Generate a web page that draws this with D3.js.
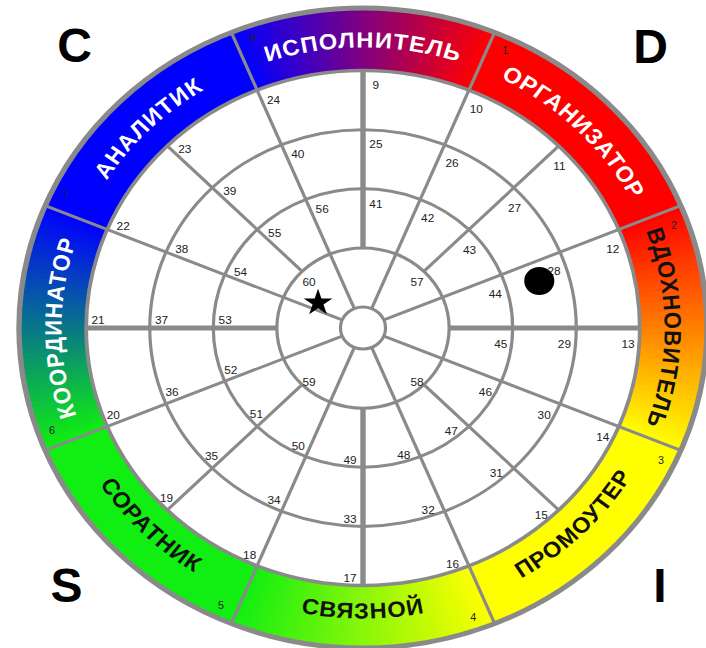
<!DOCTYPE html>
<html>
<head>
<meta charset="utf-8">
<script src="https://cdn.jsdelivr.net/npm/d3@7"></script>
<style>
    body { margin: 0; background: #fff; }
    svg { display: block; }
    text { font-family: "Liberation Sans", Arial, sans-serif; }
</style>
</head>
<body>
<div id="chart"></div>
<script>
// sectors of the wheel, clockwise from the top
const sectorNames = ["ИСПОЛНИТЕЛЬ", "ОРГАНИЗАТОР", "ВДОХНОВИТЕЛЬ", "ПРОМОУТЕР", "СВЯЗНОЙ", "СОРАТНИК", "КООРДИНАТОР", "АНАЛИТИК"];
const sectorNumbers = [8, 1, 2, 3, 4, 5, 6, 7];

// cell numbers, one per spoke (16 spokes, clockwise from the top)
const outerLabels = [9, 10, 11, 12, 13, 14, 15, 16, 17, 18, 19, 20, 21, 22, 23, 24];
const middleLabels = [25, 26, 27, 28, 29, 30, 31, 32, 33, 34, 35, 36, 37, 38, 39, 40];
const innerLabels = [41, 42, 43, 44, 45, 46, 47, 48, 49, 50, 51, 52, 53, 54, 55, 56];
const centerLabels = [57, 58, 59, 60];

// corner letters
const cornerLetters = ["C", "D", "S", "I"];

// marked answers: angle in degrees (clockwise from top), level counted in rings from the hub
const markShapes = ["circle", "star"];
const markAngles = [74, 301];
const markLevels = [2.53, 0.47];

// layout
const width = 706, height = 648;
const cx = 363, cy = 328, stretchX = 1.075;
const lineColor = "#8a8a8a";

// key colours of the wheel, the sectors in between blend them
const keyColors = {1: "#ff0000", 3: "#ffff00", 5: "#11ee11", 7: "#0000ff"};
const darkText = [2, 3, 4, 5];

const rScale = d3.scaleLinear().domain([0, 4, 5]).range([21, 257.5, 320]);
const spokeAngle = d3.scaleLinear().domain([0, 16]).range([0, 2 * Math.PI]);
const degAngle = d3.scaleLinear().domain([0, 360]).range([0, 2 * Math.PI]);

function polar(r, a) { return [r * Math.sin(a), -r * Math.cos(a)]; }

const svg = d3.select("#chart").append("svg")
    .attr("width", width)
    .attr("height", height);

const wheel = svg.append("g")
    .attr("transform", "translate(" + cx + "," + cy + ") scale(" + stretchX + ",1)");

// coloured band
const arc = d3.arc().innerRadius(rScale(4)).outerRadius(rScale(5));
const band = wheel.append("g");
sectorNames.forEach(function(name, i) {
    const start = i * 45 - 22.5;
    if (i % 2) {
        band.append("path")
            .attr("d", arc({startAngle: degAngle(start), endAngle: degAngle(start + 45)}))
            .attr("fill", keyColors[i]);
    } else {
        const c0 = keyColors[(i + 7) % 8], c1 = keyColors[(i + 1) % 8];
        const mix = d3.interpolateRgb(c0, c1);
        d3.range(45).forEach(function(s) {
            band.append("path")
                .attr("d", arc({startAngle: degAngle(start + s), endAngle: degAngle(start + s + 1.15)}))
                .attr("fill", mix((s + 0.5) / 45));
        });
    }
});

// rings
wheel.selectAll(".ring").data([0, 1, 2, 3, 4]).enter()
    .append("circle")
        .attr("class", "ring")
        .attr("r", function(d) { return rScale(d); })
        .attr("fill", "none")
        .attr("stroke", lineColor)
        .attr("stroke-width", function(d) { return d === 4 ? 3.5 : 3; });

wheel.append("circle")
    .attr("r", rScale(5))
    .attr("fill", "none")
    .attr("stroke", lineColor)
    .attr("stroke-width", 5);

// spokes: odd ones run hub to rim, the rest start at the first ring
wheel.selectAll(".spoke").data(d3.range(16)).enter()
    .append("line")
        .attr("class", "spoke")
        .each(function(i) {
            const a = spokeAngle(i);
            const p0 = polar(rScale(i % 2 ? 0 : 1), a);
            const p1 = polar(rScale(i % 2 ? 5 : 4), a);
            d3.select(this)
                .attr("x1", p0[0]).attr("y1", p0[1])
                .attr("x2", p1[0]).attr("y2", p1[1]);
        })
        .attr("stroke", lineColor)
        .attr("stroke-width", function(i) { return i % 4 === 0 ? 5 : 3; });

// cell numbers next to each spoke
function ringLabels(labels, level) {
    wheel.append("g").selectAll("text").data(labels).enter()
        .append("text")
            .attr("x", function(d, i) {
                const a = spokeAngle(i);
                return polar(rScale(level) - 11, a)[0] + 12 * Math.cos(a);
            })
            .attr("y", function(d, i) {
                const a = spokeAngle(i);
                return polar(rScale(level) - 11, a)[1] + 12 * Math.sin(a) + 4;
            })
            .attr("dy", "0.35em")
            .attr("text-anchor", "middle")
            .attr("font-size", "11px")
            .attr("fill", "#222")
            .text(function(d) { return d; });
}
ringLabels(outerLabels, 4);
ringLabels(middleLabels, 3);
ringLabels(innerLabels, 2);

wheel.append("g").selectAll("text").data(centerLabels).enter()
    .append("text")
        .attr("x", function(d, i) { return polar(rScale(1) - 9, degAngle(45 + i * 90))[0]; })
        .attr("y", function(d, i) { return polar(rScale(1) - 9, degAngle(45 + i * 90))[1] + 4; })
        .attr("dy", "0.35em")
        .attr("text-anchor", "middle")
        .attr("font-size", "11px")
        .attr("fill", "#222")
        .text(function(d) { return d; });

// sector names along the band
const defs = svg.append("defs");
sectorNames.forEach(function(name, i) {
    const clockwise = !(i >= 3 && i <= 5);
    const r = clockwise ? 280.5 : 290.5;
    const a0 = degAngle(i * 45 - 22.5) - Math.PI / 2;
    const a1 = degAngle(i * 45 + 22.5) - Math.PI / 2;
    const p = d3.path();
    if (clockwise) p.arc(0, 0, r, a0, a1, false);
    else p.arc(0, 0, r, a1, a0, true);
    defs.append("path").attr("id", "sector-path-" + i).attr("d", p.toString());

    wheel.append("text")
            .attr("font-size", "22px")
            .attr("font-weight", "bold")
            .attr("letter-spacing", "1px")
            .attr("fill", darkText.indexOf(i) >= 0 ? "#111" : "#fff")
        .append("textPath")
            .attr("href", "#sector-path-" + i)
            .attr("startOffset", "50%")
            .attr("text-anchor", "middle")
            .text(name);
});

// small sector numbers
wheel.append("g").selectAll("text").data(sectorNumbers).enter()
    .append("text")
        .attr("x", function(d, i) { return polar(307, degAngle(i * 45 - 19.5))[0]; })
        .attr("y", function(d, i) { return polar(307, degAngle(i * 45 - 19.5))[1]; })
        .attr("dy", "0.35em")
        .attr("text-anchor", "middle")
        .attr("font-size", "10px")
        .attr("fill", "#222")
        .text(function(d) { return d; });

// marks
markShapes.forEach(function(shape, i) {
    const p = polar(rScale(markLevels[i]), degAngle(markAngles[i]));
    if (shape === "circle") {
        wheel.append("circle")
            .attr("cx", p[0]).attr("cy", p[1])
            .attr("r", 14)
            .attr("fill", "#000");
    } else {
        wheel.append("path")
            .attr("transform", "translate(" + p[0] + "," + p[1] + ")")
            .attr("d", d3.symbol().type(d3.symbolStar).size(220)())
            .attr("fill", "#000");
    }
});

// corner letters
const cornerX = [74.5, 650.5, 66.5, 660];
const cornerY = [62, 63, 602, 602];
svg.append("g").selectAll("text").data(cornerLetters).enter()
    .append("text")
        .attr("x", function(d, i) { return cornerX[i]; })
        .attr("y", function(d, i) { return cornerY[i]; })
        .attr("text-anchor", "middle")
        .attr("font-size", "48px")
        .attr("font-weight", "bold")
        .attr("fill", "#000")
        .text(function(d) { return d; });
</script>
</body>
</html>
